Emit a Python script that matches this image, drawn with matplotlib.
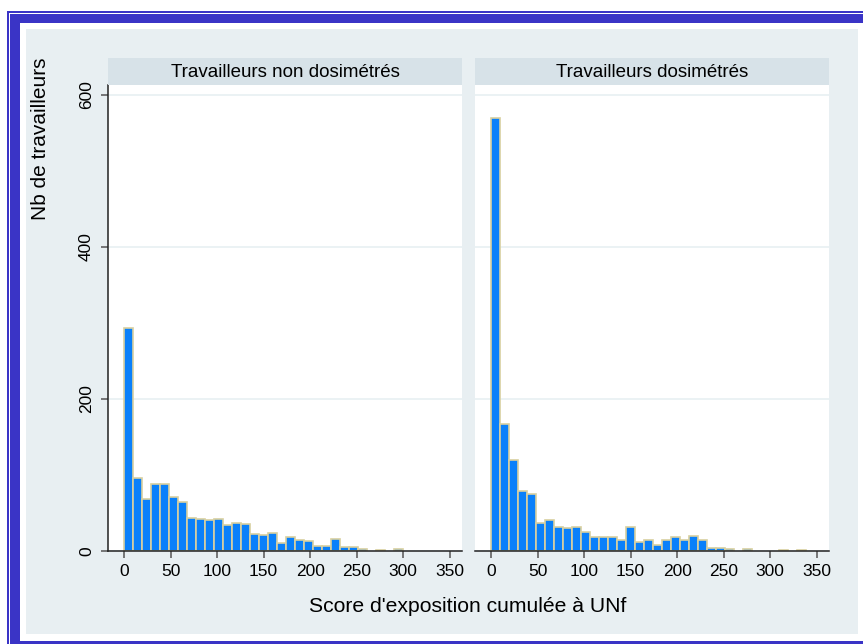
# Histogramme du score d'exposition cumulée à UNf, par statut dosimétique
import matplotlib
matplotlib.use("Agg")
import matplotlib.pyplot as plt
from matplotlib.patches import Rectangle

# largeur de classe (Stata, bins communs aux deux panneaux)
largeur = 9.68
n_classes = 35

# effectifs, classe par classe
non_dosimetres = [294, 96, 69, 88, 88, 71, 64, 44, 42, 41, 42, 34, 37, 36, 22, 21, 24, 10,
                  19, 15, 13, 7, 7, 16, 5, 5, 2, 0, 1, 0, 2, 0, 0, 0, 0]
dosimetres = [569, 167, 120, 79, 75, 37, 41, 31, 30, 32, 25, 18, 18, 18, 15, 31, 12, 14,
              8, 14, 18, 14, 20, 14, 4, 4, 2, 0, 2, 0, 0, 0, 1, 0, 1]
titres = ["Travailleurs non dosimétrés", "Travailleurs dosimétrés"]
xticks = [0, 50, 100, 150, 200, 250, 300, 350]
yticks = [0, 200, 400, 600]

W, H = 863, 644
plt.rcParams['font.family'] = ['Liberation Sans', 'DejaVu Sans']

fig = plt.figure(figsize=(W / 100, H / 100), dpi=100)
fig.patch.set_facecolor('white')


def rect_px(x0, y0, x1, y1, couleur):
    # rectangle en pixels (origine en haut à gauche)
    r = Rectangle((x0 / W, 1 - y1 / H), (x1 - x0) / W, (y1 - y0) / H,
                  transform=fig.transFigure, facecolor=couleur, edgecolor='none', zorder=-10)
    fig.patches.append(r)


# cadre bleu + fond gris clair
rect_px(7, 11, 900, 700, '#3a34c6')
rect_px(8.5, 12.5, 900, 700, 'white')
rect_px(10, 13.5, 900, 700, '#3a34c6')
rect_px(20, 23, 864, 641, 'white')
rect_px(26, 29, 858, 634, '#e8eff2')

bleu = '#0a80fa'
bord = '#d8d0a0'

for k, (data, titre) in enumerate(zip([non_dosimetres, dosimetres], titres)):
    # les classes vides ne sont pas dessinées
    g = [i * largeur for i, v in enumerate(data) if v > 0]
    h = [v for v in data if v > 0]
    x0 = 108 if k == 0 else 475
    ax = fig.add_axes([x0 / W, (H - 551) / H, 354 / W, 466 / H])
    ax.set_facecolor('white')
    ax.bar(g, h, width=largeur, align='edge', color=bleu,
           edgecolor=bord, linewidth=1.2, zorder=3)
    ax.set_xlim(-17.3, 363.3)
    ax.set_ylim(0, 613)
    ax.set_yticks(yticks)
    ax.yaxis.grid(True, color='#e9f1f3', linewidth=1.3, zorder=0)
    ax.set_xticks(xticks)
    for s in ['top', 'right']:
        ax.spines[s].set_visible(False)
    ax.spines['bottom'].set_color('#222222')
    ax.spines['bottom'].set_linewidth(1.1)
    ax.spines['bottom'].set_zorder(4)
    ax.tick_params(axis='x', length=5, width=1.1, color='#555555', pad=4, labelsize=12.5)
    if k == 0:
        ax.spines['left'].set_color('#222222')
        ax.spines['left'].set_linewidth(1.1)
        ax.tick_params(axis='y', length=5, width=1.1, color='#555555', pad=5, labelsize=12.5)
        for lab in ax.get_yticklabels():
            lab.set_rotation(90)
            lab.set_va('center')
    else:
        ax.spines['left'].set_visible(False)
        ax.tick_params(axis='y', length=0, labelleft=False)

    # bandeau du titre
    st = fig.add_axes([x0 / W, (H - 85) / H, 354 / W, 27 / H])
    st.set_facecolor('#d7e2e8')
    st.set_xticks([])
    st.set_yticks([])
    for s in st.spines.values():
        s.set_visible(False)
    st.text(0.5, 0.45, titre, ha='center', va='center', fontsize=13.5, transform=st.transAxes)

fig.text(40 / W, 1 - 57 / H, "Nb de travailleurs", rotation=90, ha='center', va='top', fontsize=15)
fig.text(468 / W, 1 - 607 / H, "Score d'exposition cumulée à UNf", ha='center', va='center', fontsize=15.2)

fig.savefig('out.png', dpi=100)
